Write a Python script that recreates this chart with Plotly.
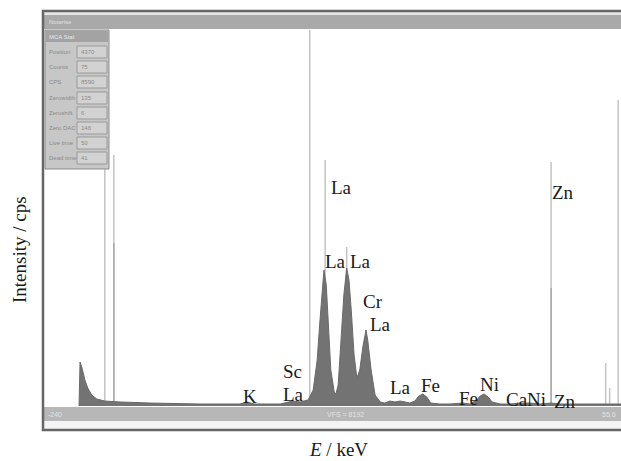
import plotly.graph_objects as go

# ---------------- data ----------------
energy_keV = [0.337, 0.355, 0.39, 0.44, 0.49, 0.56, 0.65, 0.79, 1.06, 1.59, 2.47, 3.17,
              3.29, 3.42, 3.88, 4.02, 4.10, 4.23, 4.37, 4.46, 4.53, 4.58, 4.62, 4.65,
              4.69, 4.72, 4.77, 4.83, 4.86, 4.90, 4.95, 5.00, 5.05, 5.09, 5.13, 5.18,
              5.23, 5.28, 5.34, 5.39, 5.42, 5.48, 5.55, 5.64, 5.72, 5.81, 5.90, 5.99,
              6.08, 6.16, 6.25, 6.32, 6.39, 6.46, 6.53, 6.69, 6.87, 7.01, 7.10, 7.22,
              7.34, 7.40, 7.47, 7.54, 7.61, 7.75, 7.92, 8.10, 8.28, 8.45, 8.65, 8.81,
              9.51, 9.88]
intensity_cps = [0, 327, 282, 193, 134, 82, 52, 37, 30, 22, 15, 15,
                 30, 15, 15, 30, 37, 30, 45, 119, 342, 640, 862, 1010,
                 900, 640, 268, 104, 89, 156, 490, 825, 1025, 936, 713, 379,
                 208, 268, 453, 565, 490, 268, 82, 30, 22, 37, 30, 37,
                 30, 22, 37, 74, 89, 67, 22, 15, 15, 22, 22, 15,
                 45, 74, 89, 67, 30, 15, 15, 22, 22, 15, 22, 15,
                 15, 15]

# KLM marker lines of the acquisition software
marker_E = [0.79, 0.95, 4.40, 4.67, 5.05, 8.65, 9.61, 9.68, 9.83]
marker_top = [1865, 1865, 2794, 1828, 1181, 1813, 320, 134, 2274]
marker_dark_E = [0.95, 8.65]
marker_dark_top = [1211, 877]

label_text = ["La", "Zn", "La", "La", "Cr", "La", "Sc", "La", "K",
              "La", "Fe", "Fe", "Ni", "CaNi", "Zn"]
label_E = [4.95, 8.86, 4.86, 5.30, 5.51, 5.65, 4.10, 4.12, 3.35,
           5.99, 6.53, 7.19, 7.57, 8.21, 8.89]
label_cps = [1620, 1583, 1077, 1077, 775, 608, 255, 82, 67,
             134, 149, 59, 163, 45, 37]

panel_fields = ["Position", "Counts", "CPS", "Zerowidth", "Zeroshift",
                "Zero DAC", "Live time", "Dead time"]
panel_values = ["4370", "75", "8590", "135", "6", "146", "50", "41"]

x_title = "<i>E</i> / keV"
y_title = "Intensity / cps"

# ---------------- figure ----------------
W, H = 621, 461
L, T, B = 44, 30, 54
PW, PH = W - L, H - T - B


def px(x):
    return (x - L) / PW


def py(y):
    return (H - B - y) / PH


fig = go.Figure()

mx, my = [], []
for e, t in zip(marker_E, marker_top):
    mx += [e, e, None]
    my += [0, t, None]
fig.add_trace(go.Scatter(x=mx, y=my, mode="lines",
                         line=dict(color="#c4c4c4", width=1.5),
                         hoverinfo="skip", showlegend=False))
dx, dy = [], []
for e, t in zip(marker_dark_E, marker_dark_top):
    dx += [e, e, None]
    dy += [0, t, None]
fig.add_trace(go.Scatter(x=dx, y=dy, mode="lines",
                         line=dict(color="#a9a9a9", width=1.5),
                         hoverinfo="skip", showlegend=False))

fig.add_trace(go.Scatter(x=energy_keV, y=intensity_cps, mode="lines",
                         fill="tozeroy", fillcolor="#737373",
                         line=dict(color="#6a6a6a", width=1),
                         hoverinfo="skip", showlegend=False))

serif = "Liberation Serif, Times New Roman, serif"
sans = "Liberation Sans, Arial, sans-serif"

ann = []
for t, e, c in zip(label_text, label_E, label_cps):
    ann.append(dict(x=e, y=c, xref="x", yref="y", text=t, showarrow=False,
                    font=dict(family=serif, size=19, color="#1a1a1a"),
                    xanchor="center", yanchor="middle"))

ann.append(dict(x=px(19), y=py(250), xref="paper", yref="paper",
                text=y_title, textangle=-90, showarrow=False,
                font=dict(family=serif, size=19, color="#1a1a1a"),
                xanchor="center", yanchor="middle"))
ann.append(dict(x=px(338), y=py(449), xref="paper", yref="paper",
                text=x_title, showarrow=False,
                font=dict(family=serif, size=19, color="#1a1a1a"),
                xanchor="center", yanchor="middle"))

shapes = []


def rect(x0, y0, x1, y1, fill, line="rgba(0,0,0,0)", lw=0, layer="above"):
    shapes.append(dict(type="rect", xref="paper", yref="paper",
                       x0=px(x0), x1=px(x1), y0=py(y1), y1=py(y0),
                       fillcolor=fill, line=dict(color=line, width=lw),
                       layer=layer))


# title bar
rect(44, 12, 640, 15, "#e6e6e6")
rect(44, 15, 640, 29, "#a9a9a9")
# bottom status bar
rect(44, 407, 640, 421, "#b7b7b7")
rect(44, 421, 640, 429, "#f4f4f4")
# outer border
shapes.append(dict(type="rect", xref="paper", yref="paper",
                   x0=px(43), x1=px(660), y0=py(430), y1=py(11),
                   line=dict(color="#666666", width=2.5), layer="above"))
# left info panel
rect(45, 30, 109, 169, "#c7c7c7", "#8c8c8c", 1)
rect(46, 31, 108, 42, "#a3a3a3")
row_y = [52, 67, 82, 98, 113, 128, 143, 158]
for ry, f, v in zip(row_y, panel_fields, panel_values):
    rect(77, ry - 6, 107, ry + 6, "#d2d2d2", "#9a9a9a", 1)
    ann.append(dict(x=px(47), y=py(ry), xref="paper", yref="paper", text=f,
                    showarrow=False, xanchor="left", yanchor="middle",
                    font=dict(family=sans, size=6, color="#8a8a8a")))
    ann.append(dict(x=px(79), y=py(ry), xref="paper", yref="paper", text=v,
                    showarrow=False, xanchor="left", yanchor="middle",
                    font=dict(family=sans, size=6, color="#8a8a8a")))
ann.append(dict(x=px(47), y=py(36.5), xref="paper", yref="paper", text="MCA Stat",
                showarrow=False, xanchor="left", yanchor="middle",
                font=dict(family=sans, size=6, color="#e8e8e8")))
ann.append(dict(x=px(47), y=py(22), xref="paper", yref="paper", text="Notarise",
                showarrow=False, xanchor="left", yanchor="middle",
                font=dict(family=sans, size=6, color="#e0e0e0")))
# status bar texts
for xx, tt, anc in [(46, "-240", "left"), (345, "VFS = 8192", "center"),
                    (618, "55.6", "right")]:
    ann.append(dict(x=px(xx), y=py(414), xref="paper", yref="paper", text=tt,
                    showarrow=False, xanchor=anc, yanchor="middle",
                    font=dict(family=sans, size=7, color="#e2e2e2")))

fig.update_layout(
    width=W, height=H,
    margin=dict(l=L, r=0, t=T, b=B, pad=0),
    paper_bgcolor="white", plot_bgcolor="white",
    xaxis=dict(range=[-0.28, 9.88], visible=False, fixedrange=True),
    yaxis=dict(range=[-7.4, 2794], visible=False, fixedrange=True),
    annotations=ann, shapes=shapes, showlegend=False,
)

fig.write_html("out.html")
